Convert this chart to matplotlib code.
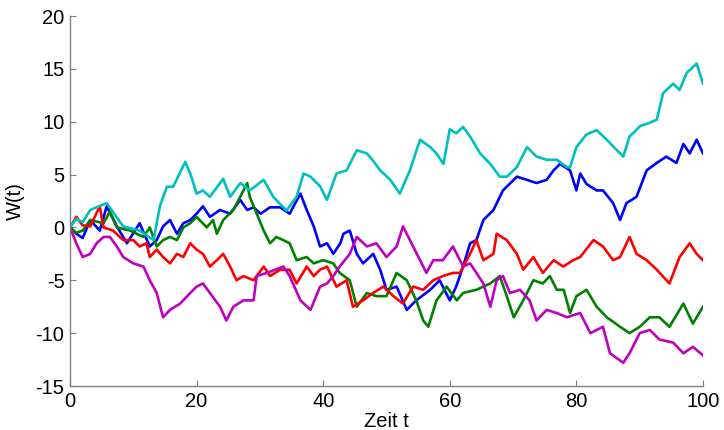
import matplotlib
matplotlib.use("Agg")
import matplotlib.pyplot as plt

# --- data (time t, value W(t)) ---
t_blue = [0, 1, 2, 3.2, 4.7, 5.8, 7.4, 9, 11, 12.6, 13.7, 14.7, 15.8, 16.9, 17.9, 19, 20, 21, 22.1, 23.7,
          25.3, 26.9, 28, 29, 30.1, 31.6, 33.2, 34.7, 36.4, 37.4, 38.5, 39.5, 40.6, 41.6, 42.7, 43.2, 44.2,
          45.3, 46.3, 47.9, 49, 50, 51.6, 53.2, 54.7, 56.9, 58.4, 60, 61, 62.1, 63.2, 64.2, 65.3, 66.9,
          68.4, 70.6, 72.2, 73.7, 75.3, 76.4, 77.4, 79, 80, 80.6, 81.6, 83.2, 84.2, 85.8, 86.9, 87.9,
          89.5, 91.1, 92.7, 94.2, 95.8, 96.9, 97.9, 99, 100]
w_blue = [0, -0.6, -1.0, 0.7, -0.3, 2.0, 0.1, -1.5, 0.4, -1.8, -1.2, 0.1, 0.7, -0.6, 0.4, 0.7, 1.3, 2.0, 1.0, 1.65,
          1.3, 2.6, 1.65, 1.9, 1.3, 1.9, 1.9, 1.3, 3.2, 1.65, 0.1, -1.8, -1.5, -2.5, -1.5, -0.6, -0.3,
          -2.5, -3.4, -2.5, -4.0, -5.9, -5.6, -7.8, -6.9, -5.9, -5.0, -6.9, -5.6, -3.7, -1.5, -1.2, 0.7, 1.65,
          3.5, 4.8, 4.5, 4.2, 4.5, 5.4, 6.0, 5.4, 3.5, 5.1, 4.1, 3.5, 3.5, 2.3, 0.7, 2.3,
          2.9, 5.4, 6.1, 6.7, 6.1, 7.9, 7.0, 8.3, 7.0]

t_green = [0, 1, 2, 3.2, 5.3, 6.3, 7.4, 9.5, 11.6, 12.6, 13.7, 14.7, 15.8, 16.9, 17.9, 19, 20, 21.6, 22.6,
           23.2, 24.2, 25.8, 26.9, 28, 28.4, 29.5, 30.6, 31.6, 32.6, 33.7, 34.7, 35.8, 37.4, 38.5, 40,
           41.6, 42.6, 44.2, 45.3, 46.9, 48.4, 50, 51.6, 53.2, 54.7, 55.8, 56.6, 57.9, 59.5, 61.1, 62.1,
           64.2, 66.4, 67.9, 69, 70.1, 71.6, 73.2, 74.7, 75.8, 76.9, 78, 79, 80, 81.6, 83.2, 84.8, 86.9,
           88.4, 90, 91.6, 93.1, 94.7, 96.9, 98.4, 100]
w_green = [0, -0.5, -0.3, 0.7, 0.4, 1.5, 0, -0.3, -0.9, 0, -1.8, -1.2, -0.9, -1.2, 0, 0.4, 1.0, 0, 0.7,
           -0.6, 0.7, 1.65, 2.9, 4.2, 2.9, 1.3, -0.3, -1.5, -0.9, -1.2, -1.5, -3.1, -2.8, -3.4, -3.1,
           -3.4, -4.3, -5.0, -7.5, -6.2, -6.5, -6.5, -4.3, -5.0, -6.9, -8.8, -9.4, -6.9, -5.6, -6.9, -6.2,
           -5.9, -5.3, -4.6, -6.5, -8.5, -6.9, -5.0, -5.3, -4.6, -5.9, -5.9, -8.1, -6.5, -5.9, -7.5, -8.5, -9.4,
           -10.0, -9.4, -8.5, -8.5, -9.4, -7.2, -9.1, -7.5]

t_red = [0, 1, 2, 3.2, 4.7, 5.3, 6.8, 8.4, 10, 11, 12.1, 12.6, 13.7, 14.7, 15.8, 16.9, 17.9, 19, 20, 21,
         22.1, 23.2, 24.2, 25.3, 26.3, 27.4, 29, 30.6, 31.6, 33.2, 34.7, 35.8, 37.4, 38.5, 39.5, 40.6,
         42.1, 43.7, 44.7, 46.3, 47.9, 49.5, 51.1, 52.6, 54.2, 55.8, 57.4, 58.9, 60.5, 61.6, 63.2, 64.2,
         65.3, 66.9, 67.4, 69, 70.6, 71.6, 73.2, 74.7, 76.4, 77.9, 79.5, 80.6, 82.7, 84.2, 85.8, 86.9,
         88.4, 89.5, 91.1, 92.7, 94.7, 96.3, 97.9, 99, 100]
w_red = [0, 1.0, 0.2, 0.1, 2.0, 0, -0.3, -1.2, -1.2, -1.8, -1.5, -2.8, -2.1, -2.8, -3.4, -2.5, -2.8, -1.5, -2.1, -2.5,
         -3.7, -3.1, -2.5, -3.7, -5.0, -4.6, -5.0, -3.7, -4.6, -4.0, -4.0, -5.3, -3.7, -4.6, -4.0, -3.7,
         -5.6, -5.0, -7.5, -6.9, -6.2, -5.6, -6.5, -7.2, -5.6, -5.9, -5.0, -4.6, -4.3, -4.3, -2.5, -1.2,
         -3.1, -2.5, -0.6, -1.2, -2.5, -4.0, -2.8, -4.3, -3.1, -3.7, -3.1, -2.8, -1.2, -1.8, -3.1, -2.8,
         -0.9, -2.5, -3.1, -4.0, -5.3, -2.8, -1.5, -2.5, -3.1]

t_cyan = [0, 1, 2, 3.2, 5.8, 8.4, 11, 13.2, 14.2, 15.3, 16.3, 18.2, 19, 20, 21, 22.1, 24.2, 25.3, 26.9,
          28.4, 30.6, 32.1, 34.2, 35.8, 36.9, 38, 39.5, 40.6, 42.1, 43.7, 45.3, 46.9, 47.9, 49, 50.6,
          52.1, 53.7, 55.3, 56.9, 57.9, 59, 60, 61, 62.1, 63.2, 64.8, 66.4, 67.9, 69, 70.6, 72.2, 73.7,
          75.3, 76.9, 78.5, 79, 80, 81.6, 83.2, 84.8, 86.4, 87.4, 88.4, 90.1, 91.6, 92.7, 93.7, 95.3,
          96.3, 97.4, 99, 100]
w_cyan = [0, 0.8, 0.5, 1.65, 2.3, 0.1, -0.3, -1.2, 2.0, 3.85, 3.85, 6.2, 5.1, 3.2, 3.5, 2.9, 4.6, 2.9, 4.2,
          3.5, 4.5, 2.9, 1.6, 2.9, 5.1, 4.8, 3.9, 2.6, 5.1, 5.4, 7.3, 7.0, 6.3, 5.4, 4.5,
          3.2, 5.4, 8.3, 7.6, 7.0, 6.0, 9.3, 8.9, 9.5, 8.6, 7.0, 6.0, 4.8, 4.8, 5.7, 7.6, 6.7,
          6.4, 6.4, 5.7, 5.7, 7.6, 8.8, 9.2, 8.3, 7.3, 6.7, 8.6, 9.6, 9.9, 10.2, 12.7, 13.6,
          13.0, 14.6, 15.5, 13.6]

t_mag = [0, 1, 2, 3.2, 4.2, 5.3, 6.3, 7.4, 8.4, 10, 11.6, 12.6, 13.7, 14.7, 15.8, 17.4, 19, 20, 21, 22.1,
         23.7, 24.7, 25.8, 27.4, 29, 29.5, 31.1, 33.7, 34.7, 36.4, 38, 39.5, 40.6, 41.6, 42.6, 44.2, 45.3,
         46.9, 48.4, 50, 51.6, 52.6, 53.7, 55.3, 56.3, 57.4, 58.9, 60.5, 61.6, 62.1, 63.2, 64.2, 65.3,
         66.4, 67.4, 68.4, 69.5, 71.1, 72.6, 73.7, 75.3, 76.9, 78.5, 80.6, 82.2, 84.2, 85.3, 87.4, 88.4,
         90, 91.6, 93.1, 95.3, 96.9, 98.4, 100]
w_mag = [0, -1.5, -2.8, -2.5, -1.5, -0.9, -0.9, -1.8, -2.8, -3.4, -3.7, -5.0, -6.2, -8.5, -7.8, -7.2, -6.2, -5.6, -5.3, -6.2,
         -7.5, -8.8, -7.5, -6.9, -6.9, -4.6, -4.3, -3.7, -4.6, -6.9, -7.8, -5.6, -5.3, -4.6, -3.7, -2.5, -0.9,
         -1.8, -1.5, -2.8, -1.8, 0.1, -1.2, -3.1, -4.3, -3.1, -3.1, -1.8, -3.1, -3.7, -3.4, -4.3, -5.3,
         -7.5, -5.0, -4.6, -6.2, -5.9, -6.9, -8.8, -7.8, -8.1, -8.5, -8.1, -10.0, -9.4, -11.9, -12.8, -11.9,
         -10.0, -9.7, -10.6, -10.9, -11.9, -11.3, -12.1]

series = [
    (t_blue, w_blue, (0, 0, 1)),
    (t_green, w_green, (0, 0.5, 0)),
    (t_red, w_red, (1, 0, 0)),
    (t_cyan, w_cyan, (0, 0.75, 0.75)),
    (t_mag, w_mag, (0.75, 0, 0.75)),
]

xticks = [0, 20, 40, 60, 80, 100]
yticks = [-15, -10, -5, 0, 5, 10, 15, 20]

plt.rcParams['font.family'] = ['Liberation Sans', 'DejaVu Sans']
plt.rcParams['axes.unicode_minus'] = False
fig = plt.figure(figsize=(7.24, 4.30), dpi=100)
ax = fig.add_axes([70 / 724, 1 - 386 / 430, 633 / 724, 370 / 430])

for t, w, c in series:
    ax.plot(t, w, color=c, linewidth=1.9)

ax.set_xlim(0, 100)
ax.set_ylim(-15, 20)
ax.set_xticks(xticks)
ax.set_yticks(yticks)
ax.tick_params(direction='in', length=4, width=0.8, color='#808080',
               labelsize=14.5, pad=4)
for s in ['top', 'right']:
    ax.spines[s].set_visible(False)
for s in ['left', 'bottom']:
    ax.spines[s].set_color('#808080')
    ax.spines[s].set_linewidth(1.0)

ax.set_xlabel('Zeit t', fontsize=14.5, labelpad=1)
ax.set_ylabel('W(t)', fontsize=14.5, labelpad=8)

fig.savefig('out.png', dpi=100)
